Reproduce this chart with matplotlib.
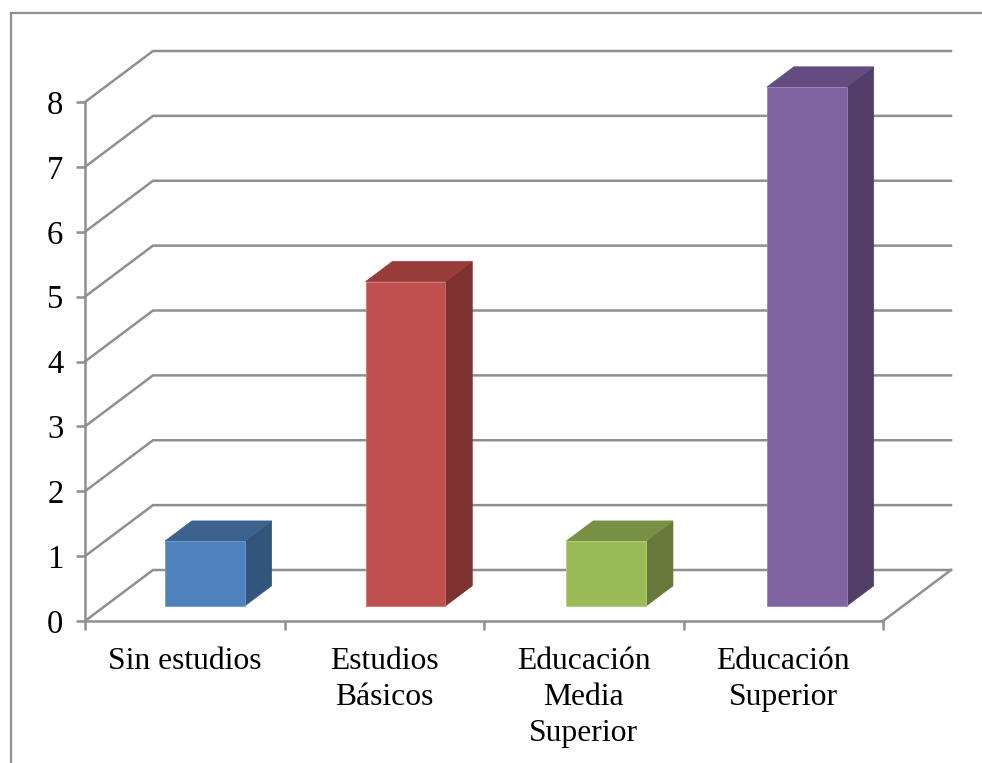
import matplotlib.pyplot as plt
from matplotlib.patches import Polygon, Rectangle

categorias = ['Sin estudios', 'Estudios\nBásicos', 'Educación\nMedia\nSuperior', 'Educación\nSuperior']
valores = [1, 5, 1, 8]
y_ticks = [0, 1, 2, 3, 4, 5, 6, 7, 8]

# frente, tapa, lado
cores = [
    ('#4f81bd', '#3c6290', '#32557c'),
    ('#c0504d', '#983c3a', '#7d3230'),
    ('#9bbb59', '#779044', '#66793a'),
    ('#8064a2', '#644b80', '#533e69'),
]
cor_borda = ['#6f9bd3', '#d06f6c', '#b3d07a', '#9a80bb']
cinza = '#8f8f8f'

W, H = 982, 763
fig = plt.figure(figsize=(W / 100, H / 100), dpi=100)
plt.rcParams['font.family'] = ['Liberation Serif', 'DejaVu Serif']

# moldura externa, aberta a direita e embaixo
fig.add_artist(Rectangle((10.5 / W, -0.05), 1.1, 1.05 - 12.5 / H, fill=False,
                         edgecolor=cinza, lw=1.6, transform=fig.transFigure))

ax = fig.add_axes([85 / W, (H - 621) / H, 798 / W, 519 / H])
ax.set_xlim(0, 4)
ax.set_ylim(0, 8)
ax.patch.set_visible(False)

# deslocamento da profundidade, em unidades dos eixos
DX = 68 / 199.5
DY = 51 / 64.875
LW = 1.8


def proj(x, y, z):
    return (x + z * DX, y + z * DY)


# paredes e chao
for y in y_ticks:
    ax.plot(*zip(proj(0, y, 0), proj(0, y, 1), proj(4, y, 1)),
            color=cinza, lw=LW, clip_on=False, zorder=1, solid_joinstyle='miter')
ax.plot(*zip(proj(4, 0, 0), proj(4, 0, 1)), color=cinza, lw=LW, clip_on=False, zorder=1)

# barras 3d
z0, z1 = 0.294, 0.69
largura = 0.4
passo = 1.006
for i, v in enumerate(valores):
    x0 = 0.3 + i * passo
    x1 = x0 + largura
    frente, tapa, lado = cores[i]
    ax.add_patch(Polygon([proj(x1, 0, z0), proj(x1, 0, z1), proj(x1, v, z1), proj(x1, v, z0)],
                         facecolor=lado, edgecolor=lado, lw=0.5, clip_on=False, zorder=3))
    ax.add_patch(Polygon([proj(x0, v, z0), proj(x1, v, z0), proj(x1, v, z1), proj(x0, v, z1)],
                         facecolor=tapa, edgecolor=tapa, lw=0.5, clip_on=False, zorder=3))
    ax.add_patch(Polygon([proj(x0, 0, z0), proj(x1, 0, z0), proj(x1, v, z0), proj(x0, v, z0)],
                         facecolor=frente, edgecolor=cor_borda[i], lw=0.6, clip_on=False, zorder=4))

# eixos
for lado_eixo in ['top', 'right']:
    ax.spines[lado_eixo].set_visible(False)
for lado_eixo in ['left', 'bottom']:
    ax.spines[lado_eixo].set_color(cinza)
    ax.spines[lado_eixo].set_linewidth(LW)

ax.set_yticks(y_ticks)
ax.tick_params(axis='y', length=6.5, width=LW, color=cinza, labelsize=23.5, pad=9)
ax.set_xticks([0, 1, 2, 3, 4])
ax.set_xticklabels([])
ax.set_xticks([i + 0.5 for i in range(4)], labels=categorias, minor=True)
ax.tick_params(axis='x', which='major', length=6.5, width=LW, color=cinza)
ax.tick_params(axis='x', which='minor', length=0, labelsize=22.8, pad=18.5)
for t in ax.get_xticklabels(minor=True):
    t.set_linespacing(1.32)

fig.savefig('out.png', dpi=100)
